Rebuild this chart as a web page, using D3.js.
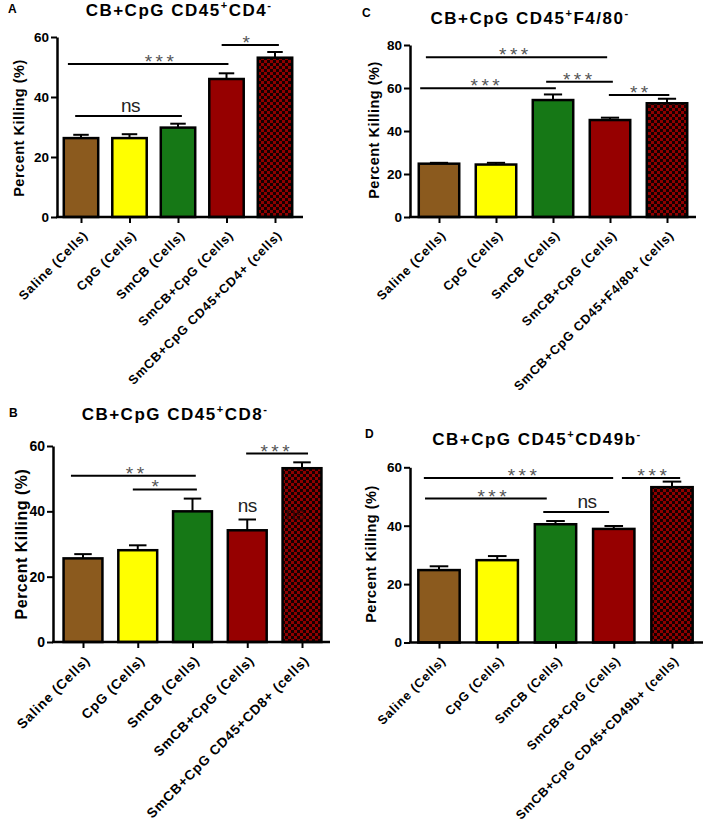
<!DOCTYPE html>
<html><head><meta charset="utf-8">
<script src="https://cdn.jsdelivr.net/npm/d3@7"></script>
<style>body{margin:0;background:#fff} svg{display:block;font-family:"Liberation Sans",Arial,sans-serif}</style>
</head><body><svg id="c" width="706" height="824"></svg>
<script>
// ---------- DATA ----------
const baseCategories = ["Saline (Cells)", "CpG (Cells)", "SmCB (Cells)", "SmCB+CpG (Cells)"];
const lastA = "SmCB+CpG CD45+CD4+ (cells)";
const lastB = "SmCB+CpG CD45+CD8+ (cells)";
const lastC = "SmCB+CpG CD45+F4/80+ (cells)";
const lastD = "SmCB+CpG CD45+CD49b+ (cells)";

const meanA = [26.3, 26.3, 29.8, 46.0, 53.1];
const errA  = [1.1, 1.3, 1.3, 1.9, 1.9];
const meanB = [25.6, 28.1, 40.0, 34.2, 53.2];
const errB  = [1.3, 1.5, 3.9, 3.3, 1.8];
const meanC = [24.8, 24.4, 54.4, 45.1, 52.9];
const errC  = [0.4, 0.8, 2.6, 1.1, 2.1];
const meanD = [24.8, 28.2, 40.5, 38.9, 53.2];
const errD  = [1.3, 1.4, 1.1, 1.0, 1.9];

const yTicks60 = [0, 20, 40, 60];
const yTicks80 = [0, 20, 40, 60, 80];

// significance brackets: a,b = category index span, y = percent, t = label, tx = label index position
const sigA = [
  {a:-0.27, b:3.04, y:51.0, t:"***", tx:1.65},
  {a:-0.12, b:2.08, y:33.7, t:"ns",  tx:1.02},
  {a: 2.90, b:4.08, y:57.3, t:"*",   tx:3.44}
];
const sigB = [
  {a:-0.22, b:2.06, y:50.9, t:"**",  tx:0.98},
  {a: 0.91, b:2.08, y:46.7, t:"*",   tx:1.35},
  {a: 2.98, b:4.11, y:57.7, t:"***", tx:3.54}
];
const notesB = [
  {x:3.0,  y:39.7, t:"ns", faint:false},
  {x:3.87, y:37.3, t:"ns", faint:true}
];
const sigC = [
  {a:-0.23, b:2.95, y:74.3, t:"***", tx:1.34},
  {a:-0.33, b:2.05, y:59.9, t:"***", tx:0.84},
  {a: 1.88, b:3.05, y:62.9, t:"***", tx:2.46},
  {a: 2.98, b:4.04, y:56.7, t:"**",  tx:3.54}
];
const sigD = [
  {a:-0.26, b:2.99, y:56.3, t:"***", tx:1.46},
  {a:-0.24, b:1.85, y:49.3, t:"***", tx:0.94},
  {a: 1.79, b:2.92, y:44.7, t:"ns",  tx:2.54},
  {a: 3.14, b:4.14, y:56.3, t:"***", tx:3.69}
];

// ---------- DRAW ----------
const FONT = '"Liberation Sans",Arial,sans-serif';
const svg = d3.select("#c");
const defs = svg.append("defs");
const pat = defs.append("pattern").attr("id","chk").attr("patternUnits","userSpaceOnUse")
  .attr("width",6).attr("height",6);
pat.append("rect").attr("width",6).attr("height",6).attr("fill","#140000");
pat.append("rect").attr("x",0).attr("y",0).attr("width",3).attr("height",3).attr("fill","#8e0000");
pat.append("rect").attr("x",3).attr("y",3).attr("width",3).attr("height",3).attr("fill","#8e0000");

const barFills = ["#8b5a1e", "#ffff00", "#167816", "#960000", "url(#chk)"];

function drawPanel(p) {
  const g = svg.append("g");
  const labels = baseCategories.concat([p.last]);
  const ys = d3.scaleLinear().domain([0, p.yMax]).range([p.y0, p.yTop]);
  const xs = d3.scalePoint().domain(d3.range(5)).range([p.first, p.first + 4*p.step]);
  const xi = d3.scaleLinear().domain([0, 4]).range([p.first, p.first + 4*p.step]);
  const bw = p.step * 0.71, cap = bw * 0.45;

  // panel letter
  g.append("text").attr("x", p.lx).attr("y", p.ly).text(p.letter)
    .attr("font-size", 12).attr("font-weight","bold").attr("font-family", FONT);

  // title
  const t = g.append("text").attr("x", p.tx).attr("y", p.ty).attr("text-anchor","middle")
    .attr("font-size", p.tsize).attr("font-weight","bold").attr("letter-spacing", 1.5)
    .attr("font-family", FONT);
  p.title.forEach((s, k) => {
    const ts = t.append("tspan").text(s);
    if (k % 2 === 1) ts.attr("font-size", p.tsize*0.65).attr("dy", -p.tsize*0.4);
    else if (k > 0) ts.attr("dy", p.tsize*0.4);
  });

  // y label
  g.append("text").attr("transform", `translate(${p.ylx},${p.yly}) rotate(-90)`)
    .attr("text-anchor","middle").attr("dominant-baseline","central")
    .attr("font-size", p.ylsize).attr("font-weight","bold").attr("letter-spacing",0.5)
    .attr("font-family", FONT).text("Percent Killing (%)");

  // error bars
  const eg = g.append("g").attr("stroke","#000").attr("stroke-width",2);
  p.means.forEach((m, i) => {
    eg.append("line").attr("x1", xs(i)).attr("x2", xs(i)).attr("y1", ys(m)).attr("y2", ys(m + p.errs[i]));
    eg.append("line").attr("x1", xs(i) - cap/2).attr("x2", xs(i) + cap/2)
      .attr("y1", ys(m + p.errs[i])).attr("y2", ys(m + p.errs[i]));
  });

  // bars
  g.selectAll("rect.bar").data(p.means).join("rect").attr("class","bar")
    .attr("x", (d, i) => xs(i) - bw/2).attr("y", d => ys(d))
    .attr("width", bw).attr("height", d => ys(0) - ys(d))
    .attr("fill", (d, i) => barFills[i]).attr("stroke","#000").attr("stroke-width",2.5);

  // notes inside/above bars
  (p.notes || []).forEach(n => {
    g.append("text").attr("x", xi(n.x)).attr("y", ys(n.y)).attr("text-anchor","middle")
      .attr("font-size", 19).attr("letter-spacing", -0.5).attr("font-family", FONT)
      .attr("fill", n.faint ? "#3a0505" : "#222").text(n.t);
  });

  // y axis
  const ya = g.append("g").attr("transform", `translate(${p.axisX},0)`)
    .call(d3.axisLeft(ys).tickValues(p.ticks).tickSize(6).tickSizeOuter(0).tickPadding(2)
      .tickFormat(d3.format("d")));
  ya.select(".domain").attr("stroke-width", 2.5);
  ya.selectAll(".tick line").attr("stroke-width", 2);
  ya.selectAll(".tick text").attr("font-size", p.ticksize).attr("font-weight","bold")
    .attr("font-family", FONT).attr("fill","#000");

  // x axis
  const xa = g.append("g").attr("transform", `translate(0,${p.y0})`)
    .call(d3.axisBottom(xs).tickSize(6).tickSizeOuter(0).tickFormat(i => labels[i]));
  xa.select(".domain").remove();
  xa.selectAll(".tick line").attr("stroke-width", 2);
  xa.selectAll(".tick text").attr("x", 0).attr("y", 0).attr("dy","0.35em")
    .attr("text-anchor","end").attr("transform", `translate(${p.lxo},${p.lyo}) rotate(-45)`)
    .attr("font-size", p.xlsize).attr("font-weight","bold").attr("letter-spacing", 0.8)
    .attr("font-family", FONT).attr("fill","#000");
  g.append("line").attr("x1", p.axisX - 1).attr("x2", p.axisEnd)
    .attr("y1", p.y0).attr("y2", p.y0).attr("stroke","#000").attr("stroke-width", 2.5);

  // significance
  p.sig.forEach(s => {
    g.append("line").attr("x1", xi(s.a)).attr("x2", xi(s.b)).attr("y1", ys(s.y)).attr("y2", ys(s.y))
      .attr("stroke","#000").attr("stroke-width", 2);
    const isNs = s.t === "ns";
    g.append("text").attr("x", xi(s.tx)).attr("y", ys(s.y) + (isNs ? -4 : 4))
      .attr("text-anchor","middle").attr("font-family", FONT)
      .attr("font-size", 19).attr("letter-spacing", isNs ? -0.5 : 3.5)
      .attr("fill", isNs ? "#222" : "#555").text(s.t);
  });
}

drawPanel({letter:"A", lx:8, ly:13, title:["CB+CpG CD45","+","CD4","-"], tx:179, ty:16, tsize:17,
  axisX:57, first:81, step:48.5, y0:217, yTop:37, yMax:60, axisEnd:303,
  ylx:19, yly:128, ylsize:14.5, ticksize:13.5, xlsize:12.8, lxo:4, lyo:16,
  means:meanA, errs:errA, ticks:yTicks60, last:lastA, sig:sigA});
drawPanel({letter:"C", lx:362, ly:17, title:["CB+CpG CD45","+","F4/80","-"], tx:530, ty:24, tsize:17,
  axisX:410, first:439, step:57, y0:217, yTop:45, yMax:80, axisEnd:696,
  ylx:374, yly:130, ylsize:14.5, ticksize:13.5, xlsize:12.8, lxo:4, lyo:16,
  means:meanC, errs:errC, ticks:yTicks80, last:lastC, sig:sigC});
drawPanel({letter:"B", lx:9, ly:417, title:["CB+CpG CD45","+","CD8","-"], tx:175, ty:420, tsize:17,
  axisX:53, first:83, step:54.75, y0:642, yTop:446, yMax:60, axisEnd:330,
  ylx:21, yly:544, ylsize:16, ticksize:14, xlsize:13.6, lxo:4, lyo:16,
  means:meanB, errs:errB, ticks:yTicks60, last:lastB, sig:sigB, notes:notesB});
drawPanel({letter:"D", lx:365, ly:438, title:["CB+CpG CD45","+","CD49b","-"], tx:537, ty:445, tsize:17,
  axisX:410, first:439, step:58.25, y0:642.5, yTop:467.3, yMax:60, axisEnd:703,
  ylx:371, yly:554, ylsize:14.5, ticksize:13.5, xlsize:12.6, lxo:4, lyo:16,
  means:meanD, errs:errD, ticks:yTicks60, last:lastD, sig:sigD});
</script></body></html>
